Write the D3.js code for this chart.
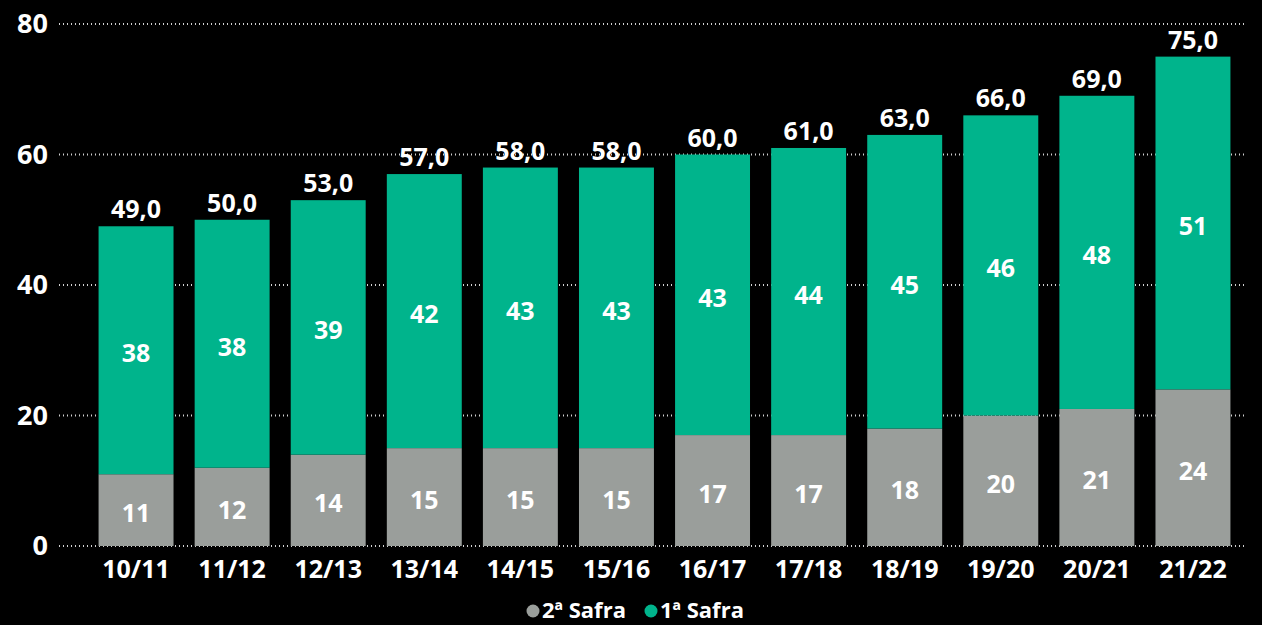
<!DOCTYPE html>
<html lang="pt">
<head>
<meta charset="UTF-8" />
<title>Safras</title>
<script src="https://d3js.org/d3.v7.min.js"></script>
<style>
    * { margin: 0; padding: 0; box-sizing: border-box; }
    body { background: #000; overflow: hidden; }
    svg { display: block; }
    text { font-family: "Open Sans", "Noto Sans", sans-serif; font-weight: 700; fill: #fff; }
</style>
</head>
<body>
<svg width="1262" height="625"></svg>
<script>
    // Data
    var seasons = ["10/11", "11/12", "12/13", "13/14", "14/15", "15/16", "16/17", "17/18", "18/19", "19/20", "20/21", "21/22"];
    var safra2 = [11, 12, 14, 15, 15, 15, 17, 17, 18, 20, 21, 24];
    var safra1 = [38, 38, 39, 42, 43, 43, 43, 44, 45, 46, 48, 51];
    var totals = [49, 50, 53, 57, 58, 58, 60, 61, 63, 66, 69, 75];
    var yTicks = [0, 20, 40, 60, 80];
    var seriesNames = ["2ª Safra", "1ª Safra"];
    var colors = ["#9a9e9b", "#00b48c"];

    var svgWidth = 1262, svgHeight = 625;
    var svg = d3.select("svg");

    var xScale = d3.scaleBand()
        .domain(seasons)
        .range([88, 1241])
        .paddingInner(0.22)
        .paddingOuter(0.11);

    var yScale = d3.scaleLinear()
        .domain([0, 80])
        .range([546, 24]);

    // dotted gridlines
    svg.append("g")
        .selectAll("line")
        .data(yTicks)
        .enter()
        .append("line")
        .attr("x1", 59)
        .attr("x2", 1246)
        .attr("y1", function(d) { return yScale(d); })
        .attr("y2", function(d) { return yScale(d); })
        .attr("stroke", "#d0d0d0")
        .attr("stroke-width", 2)
        .attr("stroke-dasharray", "1,3");

    // y tick labels
    svg.append("g")
        .selectAll("text")
        .data(yTicks)
        .enter()
        .append("text")
        .attr("x", 48)
        .attr("y", function(d) { return yScale(d); })
        .attr("dy", "0.35em")
        .attr("text-anchor", "end")
        .attr("font-size", "27px")
        .text(function(d) { return d; });

    // stacked bars
    var rows = seasons.map(function(s, i) {
        return { season: s, s2: safra2[i], s1: safra1[i], total: totals[i] };
    });

    var bars = svg.append("g");
    bars.selectAll("rect.s2")
        .data(rows)
        .enter()
        .append("rect")
        .attr("x", function(d) { return xScale(d.season); })
        .attr("y", function(d) { return yScale(d.s2); })
        .attr("width", xScale.bandwidth())
        .attr("height", function(d) { return yScale(0) - yScale(d.s2); })
        .attr("fill", colors[0]);

    bars.selectAll("rect.s1")
        .data(rows)
        .enter()
        .append("rect")
        .attr("x", function(d) { return xScale(d.season); })
        .attr("y", function(d) { return yScale(d.s2 + d.s1); })
        .attr("width", xScale.bandwidth())
        .attr("height", function(d) { return yScale(d.s2) - yScale(d.s2 + d.s1); })
        .attr("fill", colors[1]);

    // segment labels
    var labels = svg.append("g");
    labels.selectAll("text.l2")
        .data(rows)
        .enter()
        .append("text")
        .attr("x", function(d) { return xScale(d.season) + xScale.bandwidth() / 2; })
        .attr("y", function(d) { return yScale(d.s2 / 2); })
        .attr("dy", "0.48em")
        .attr("text-anchor", "middle")
        .attr("font-size", "25px")
        .text(function(d) { return d.s2; });

    labels.selectAll("text.l1")
        .data(rows)
        .enter()
        .append("text")
        .attr("x", function(d) { return xScale(d.season) + xScale.bandwidth() / 2; })
        .attr("y", function(d) { return yScale(d.s2 + d.s1 / 2); })
        .attr("dy", "0.48em")
        .attr("text-anchor", "middle")
        .attr("font-size", "25px")
        .text(function(d) { return d.s1; });

    // totals above bars
    labels.selectAll("text.tot")
        .data(rows)
        .enter()
        .append("text")
        .attr("x", function(d) { return xScale(d.season) + xScale.bandwidth() / 2; })
        .attr("y", function(d) { return yScale(d.total) - 8; })
        .attr("text-anchor", "middle")
        .attr("font-size", "25px")
        .text(function(d) { return d.total.toFixed(1).replace(".", ","); });

    // x axis labels
    svg.append("g")
        .selectAll("text")
        .data(seasons)
        .enter()
        .append("text")
        .attr("x", function(d) { return xScale(d) + xScale.bandwidth() / 2; })
        .attr("y", 578)
        .attr("text-anchor", "middle")
        .attr("font-size", "25px")
        .text(function(d) { return d; });

    // legend
    var legend = svg.append("g");
    var legendX = [533, 651];
    seriesNames.forEach(function(name, i) {
        legend.append("circle")
            .attr("cx", legendX[i])
            .attr("cy", 611)
            .attr("r", 6.5)
            .attr("fill", colors[i]);
        legend.append("text")
            .attr("x", legendX[i] + 9)
            .attr("y", 618)
            .attr("font-size", "22px")
            .text(name);
    });
</script>
</body>
</html>
